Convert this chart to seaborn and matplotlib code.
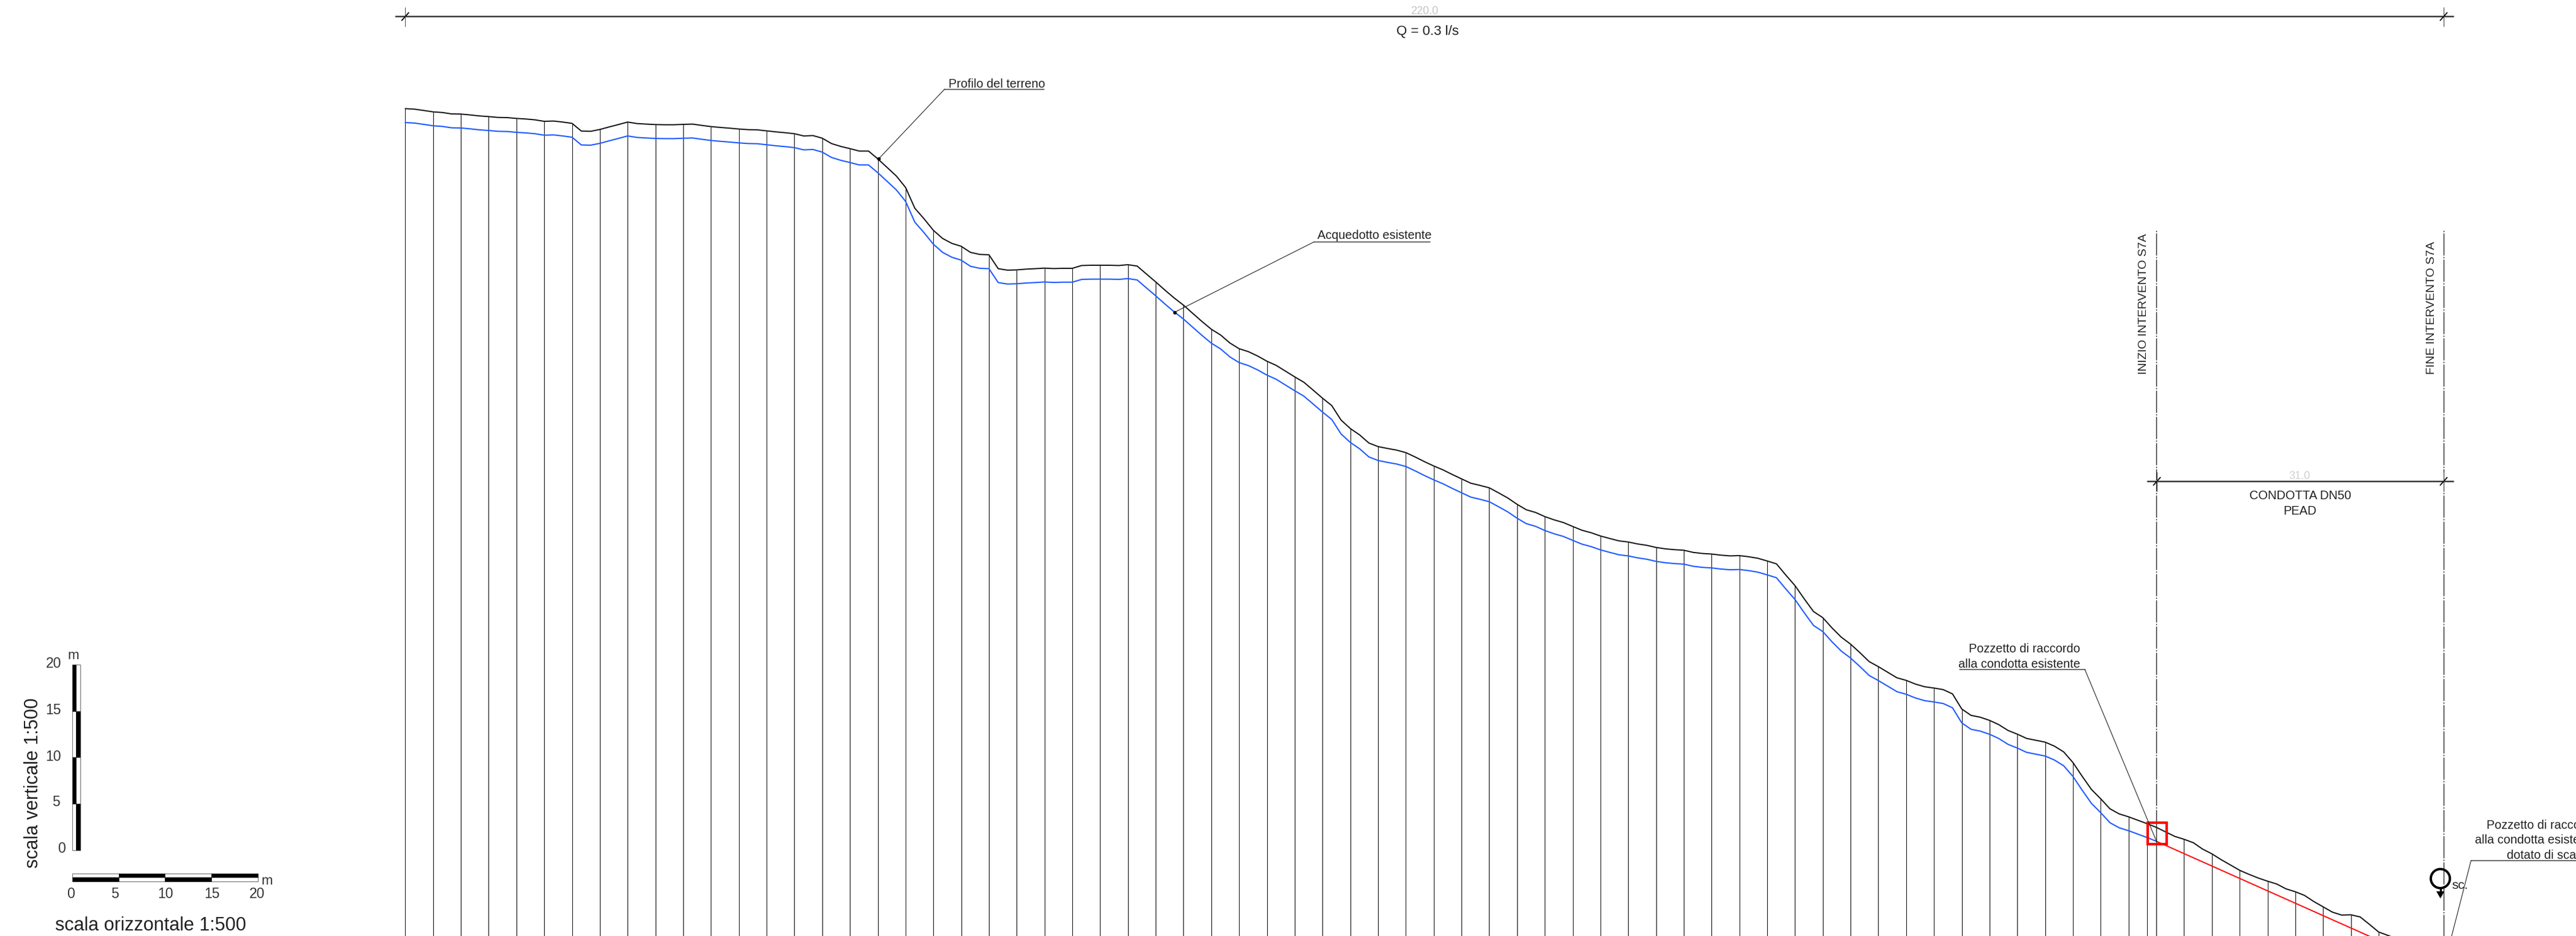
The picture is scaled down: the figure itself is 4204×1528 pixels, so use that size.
import numpy as np
import pandas as pd
import matplotlib.pyplot as plt
from matplotlib.patches import Rectangle, Circle, Polygon
import seaborn as sns

# ground profile, one reading per metre of chainage (elevations in m above bottom of sheet)
terrain = [
    89.33, 89.27, 89.13, 88.98, 88.91, 88.76, 88.74, 88.65, 88.54, 88.47,
    88.38, 88.36, 88.27, 88.21, 88.12, 87.96, 87.99, 87.88, 87.74, 86.91,
    86.88, 87.08, 87.35, 87.61, 87.88, 87.72, 87.66, 87.61, 87.59, 87.59,
    87.63, 87.66, 87.52, 87.39, 87.30, 87.22, 87.13, 87.06, 87.04, 86.93,
    86.82, 86.73, 86.62, 86.38, 86.42, 86.14, 85.56, 85.25, 85.01, 84.75,
    84.75, 83.91, 82.98, 82.06, 80.82, 78.57, 77.43, 76.19, 75.31, 74.78,
    74.47, 73.81, 73.59, 73.55, 72.05, 71.89, 71.92, 72.00, 72.05, 72.11,
    72.06, 72.09, 72.09, 72.39, 72.42, 72.42, 72.42, 72.39, 72.48, 72.33,
    71.47, 70.62, 69.73, 68.88, 68.11, 67.22, 66.34, 65.51, 64.89, 64.03,
    63.41, 63.09, 62.62, 62.06, 61.61, 60.99, 60.37, 59.78, 58.93, 58.07,
    57.27, 55.71, 54.79, 54.11, 53.23, 52.84, 52.64, 52.46, 52.19, 51.72,
    51.22, 50.75, 50.33, 49.83, 49.36, 48.89, 48.65, 48.39, 47.85, 47.29,
    46.61, 46.02, 45.73, 45.28, 44.93, 44.64, 44.22, 43.81, 43.54, 43.19,
    42.92, 42.66, 42.54, 42.33, 42.18, 41.95, 41.80, 41.71, 41.65, 41.42,
    41.30, 41.24, 41.12, 41.04, 41.07, 40.95, 40.78, 40.49, 40.18, 38.98,
    37.83, 36.40, 35.03, 34.37, 33.26, 32.26, 31.51, 30.60, 29.63, 29.08,
    28.48, 27.88, 27.60, 27.20, 26.91, 26.77, 26.60, 26.14, 24.51, 23.82,
    23.62, 23.28, 22.82, 22.19, 21.79, 21.33, 21.13, 20.93, 20.50, 19.88,
    18.73, 17.24, 15.82, 14.81, 13.73, 13.18, 12.87, 12.50, 12.13, 11.73,
    11.24, 10.75, 10.44, 10.07, 9.38, 8.87, 8.24, 7.67, 7.09, 6.66,
    6.26, 5.92, 5.61, 5.09, 4.78, 4.38, 3.72, 3.15, 2.58, 2.26,
    2.29, 2.06, 1.26, 0.43, 0.06, -0.30, -0.80]

# existing aqueduct, blue line
aqueduct = [
    87.83, 87.77, 87.63, 87.48, 87.41, 87.26, 87.24, 87.15, 87.04, 86.97,
    86.88, 86.86, 86.77, 86.71, 86.62, 86.46, 86.49, 86.38, 86.24, 85.41,
    85.38, 85.58, 85.85, 86.11, 86.38, 86.22, 86.16, 86.11, 86.09, 86.09,
    86.13, 86.16, 86.02, 85.89, 85.80, 85.72, 85.63, 85.56, 85.54, 85.43,
    85.32, 85.23, 85.12, 84.88, 84.92, 84.64, 84.06, 83.75, 83.51, 83.25,
    83.25, 82.41, 81.48, 80.56, 79.32, 77.07, 75.93, 74.69, 73.81, 73.28,
    72.97, 72.31, 72.09, 72.05, 70.55, 70.39, 70.42, 70.50, 70.55, 70.61,
    70.56, 70.59, 70.59, 70.89, 70.92, 70.92, 70.92, 70.89, 70.98, 70.83,
    69.97, 69.12, 68.23, 67.38, 66.61, 65.72, 64.84, 64.01, 63.39, 62.53,
    61.91, 61.59, 61.12, 60.56, 60.11, 59.49, 58.87, 58.28, 57.43, 56.57,
    55.77, 54.21, 53.29, 52.61, 51.73, 51.34, 51.14, 50.96, 50.69, 50.22,
    49.72, 49.25, 48.83, 48.33, 47.86, 47.39, 47.15, 46.89, 46.35, 45.79,
    45.11, 44.52, 44.23, 43.78, 43.43, 43.14, 42.72, 42.31, 42.04, 41.69,
    41.42, 41.16, 41.04, 40.83, 40.68, 40.45, 40.30, 40.21, 40.15, 39.92,
    39.80, 39.74, 39.62, 39.54, 39.57, 39.45, 39.28, 38.99, 38.68, 37.48,
    36.33, 34.90, 33.53, 32.87, 31.76, 30.76, 30.01, 29.10, 28.13, 27.58,
    26.98, 26.38, 26.10, 25.70, 25.41, 25.27, 25.10, 24.64, 23.01, 22.32,
    22.12, 21.78, 21.32, 20.69, 20.29, 19.83, 19.63, 19.43, 19.00, 18.38,
    17.23, 15.74, 14.32, 13.31, 12.23, 11.68, 11.37, 11.00, 10.63, 10.23]

# new pipe, red line
new_pipe_x = [189, 216]
new_pipe_y = [10.23, -1.81]

# chainage of the vertical section lines
sections = list(range(0, 216, 3)) + [188]

scale_ticks = [0, 5, 10, 15, 20]

W, H = 4204, 1528
PX_PER_M = 15.12
X0_PX = 661.4

sns.set_style("white")
plt.rcParams['lines.scale_dashes'] = False
note = ['Liberation Sans']

fig = plt.figure(figsize=(W / 100, H / 100), dpi=100)
ax = fig.add_axes([0, 0, 1, 1])
ax.set_xlim(-X0_PX / PX_PER_M, (W - X0_PX) / PX_PER_M)
ax.set_ylim(0, H / PX_PER_M)
ax.axis("off")

# sections first so the profiles sit on top
ax.vlines(sections, -5, [terrain[s] for s in sections], color="#111111", lw=0.75, snap=True)

df_terrain = pd.DataFrame({"x": range(len(terrain)), "y": terrain})
df_pipe = pd.DataFrame({"x": range(len(aqueduct)), "y": aqueduct})
sns.lineplot(ax=ax, data=df_terrain, x="x", y="y", color="#111111", lw=1.4, estimator=None)
sns.lineplot(ax=ax, data=df_pipe, x="x", y="y", color="#1f5bff", lw=1.5, estimator=None)
sns.lineplot(ax=ax, x=new_pipe_x, y=new_pipe_y, color="#ff1010", lw=1.5, estimator=None)
ax.set(xlabel="", ylabel="")

# start / end of works, dash-dot
dashdot = (0, (26, 1.6, 1.6, 1.6))
for m in [189, 220]:
    ax.vlines(m, -5, (H - 376) / PX_PER_M, color="#111111", lw=0.8, linestyle=dashdot, snap=True)

# well in red box
ax.add_patch(Rectangle((188.05, 9.95), 2.05, 2.29, fill=False, ec="#ff0000", lw=3, zorder=5))

# scale bars, in metres like the drawing
sx, sy = -35.92, 9.28
bw = 0.41
for i in range(len(scale_ticks) - 1):
    a, b = scale_ticks[i], scale_ticks[i + 1]
    odd = i % 2
    ax.add_patch(Rectangle((sx, sy + a), bw, b - a, fc="black" if odd else "white", ec="black", lw=0.4))
    ax.add_patch(Rectangle((sx + bw, sy + a), bw, b - a, fc="white" if odd else "black", ec="black", lw=0.4))
    hy = 5.89
    ax.add_patch(Rectangle((sx + a, hy), b - a, 0.43, fc="white" if odd else "black", ec="black", lw=0.4))
    ax.add_patch(Rectangle((sx + a, hy + 0.43), b - a, 0.43, fc="black" if odd else "white", ec="black", lw=0.4))

# drain symbol
ax.add_patch(Circle((219.66, 6.2), 1.03, fill=False, ec="black", lw=2.8))

# annotations are laid out in sheet pixels
ov = fig.add_axes([0, 0, 1, 1], facecolor="none")
ov.set_xlim(0, W)
ov.set_ylim(H, 0)
ov.axis("off")


def dimension(y, x1, x2):
    ov.plot([x1 - 15.5, x2 + 15.5], [y, y], color="#bdbdbd", lw=2.6, zorder=1)
    ov.plot([x1 - 15.5, x2 + 15.5], [y, y], color="#222222", lw=1.2, zorder=2)
    for x in (x1, x2):
        ov.plot([x - 5.6, x + 5.6], [y + 6.3, y - 6.3], color="black", lw=1.3)
        ov.plot([x, x], [y - 15, y + 16], color="#444444", lw=0.7)


def leader(x0, y0, x1, y1, under_to, dot=True):
    ov.plot([under_to, x0], [y0, y0], color="#444444", lw=1.1)
    ov.plot([x0, x1], [y0, y1], color="#222222", lw=0.8)
    if dot:
        ov.plot([x1], [y1], "o", color="black", ms=3.2)


dimension(27, 661.4, 3988)
dimension(785.8, 3520, 3988)

ink = "#222222"
ov.text(2325, 23, "220.0", color="#c4c4c4", fontsize=13, family=note, ha="center", va="baseline")
ov.text(2330, 57.3, "Q = 0.3 l/s", color=ink, fontsize=16, family=note, ha="center", va="baseline")
ov.text(3752.7, 781.8, "31.0", color="#d0d0d0", fontsize=13, family=note, ha="center", va="baseline")
ov.text(3753.6, 815, "CONDOTTA DN50", color=ink, fontsize=14.4, family=note, ha="center", va="baseline")
ov.text(3753.6, 840, "PEAD", color=ink, fontsize=14.4, family=note, ha="center", va="baseline")

ov.text(3503, 611, "INIZIO INTERVENTO S7A", color=ink, fontsize=14, family=note, rotation=90,
        ha="left", va="baseline", rotation_mode="anchor")
ov.text(3973, 611, "FINE INTERVENTO S7A", color=ink, fontsize=14, family=note, rotation=90,
        ha="left", va="baseline", rotation_mode="anchor")

leader(1541.4, 145.7, 1434, 259.3, 1704)
ov.text(1547.7, 143, "Profilo del terreno", color=ink, fontsize=14.3, family=note, va="baseline")

leader(2144.2, 395, 1916.8, 509.8, 2333.7)
ov.text(2150.5, 390, "Acquedotto esistente", color=ink, fontsize=14.3, family=note, va="baseline")

leader(3402.5, 1093, 3520, 1375, 3197.5, dot=False)
ov.text(3394.5, 1065, "Pozzetto di raccordo", color=ink, fontsize=14.3, family=note, ha="right", va="baseline")
ov.text(3394.5, 1090.4, "alla condotta esistente", color=ink, fontsize=14.3, family=note, ha="right", va="baseline")

leader(4032.7, 1404.7, 3998, 1540, W, dot=False)
ov.text(4058, 1352.7, "Pozzetto di raccordo", color=ink, fontsize=14.3, family=note, va="baseline", clip_on=True)
ov.text(4039, 1377.3, "alla condotta esistente", color=ink, fontsize=14.3, family=note, va="baseline", clip_on=True)
ov.text(4090.7, 1401.7, "dotato di scarico", color=ink, fontsize=14.3, family=note, va="baseline", clip_on=True)

# arrow under the drain circle
ov.plot([3982.7, 3982.7], [1451, 1458], color="black", lw=2.4)
ov.add_patch(Polygon([[3976, 1455], [3989.4, 1455], [3982.7, 1466.7]], closed=True, fc="black", ec="none"))
ov.text(4001, 1450.7, "sc.", color=ink, fontsize=15, family=note, va="baseline")

# scale bar labels
for lab, yy, xr in zip(scale_ticks, [1385.7, 1310, 1235, 1159, 1084], [106.7, 98, 100, 100, 100]):
    ov.text(xr, yy, str(lab), color="#333333", fontsize=16.5, family=note, ha="right", va="center")
for lab, xx in zip(scale_ticks, [116, 187.7, 270, 345.7, 420]):
    ov.text(xx, 1460, str(lab), color="#333333", fontsize=16.5, family=note, ha="center", va="center")
ov.text(120, 1075.7, "m", color="#333333", fontsize=16, family=note, ha="center", va="baseline")
ov.text(435.5, 1444, "m", color="#333333", fontsize=16, family=note, ha="center", va="baseline")

ov.text(61.7, 1416.7, "scala verticale 1:500", color=ink, fontsize=22, family=note, rotation=90,
        ha="left", va="baseline", rotation_mode="anchor")
ov.text(246, 1519.3, "scala orizzontale 1:500", color=ink, fontsize=22, family=note, ha="center", va="baseline")

fig.savefig("out.png", dpi=100)
